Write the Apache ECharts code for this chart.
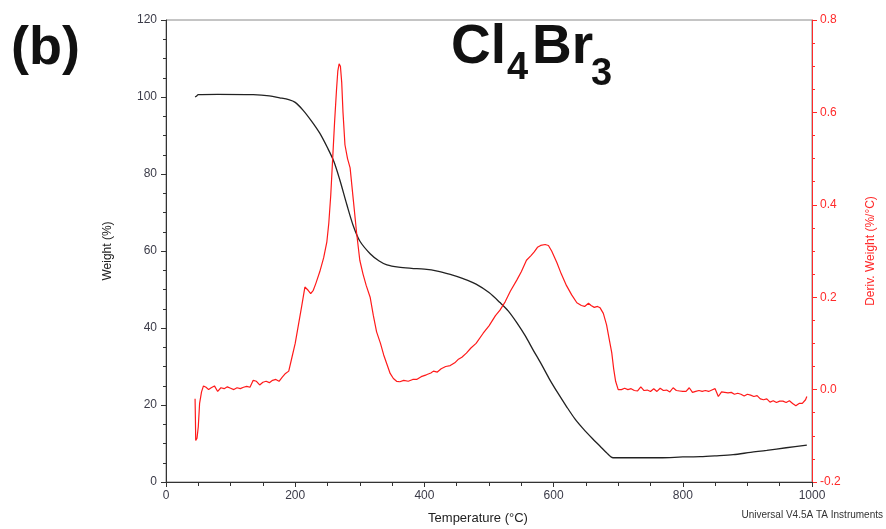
<!DOCTYPE html>
<html>
<head>
<meta charset="utf-8">
<script src="https://cdn.jsdelivr.net/npm/echarts/dist/echarts.min.js"></script>
<style>
  html, body { margin: 0; padding: 0; background: #fff; }
  #tga { width: 886px; height: 529px; }
</style>
</head>
<body>
<div id="tga"></div>
<script>
// TGA curve: temperature (°C) -> weight (%)
var weightT = [45, 47, 50, 80, 135, 160, 176, 190, 200, 212, 225, 238, 250, 260, 269, 280, 290, 300, 316, 330,
  342, 360, 380, 400, 420, 440, 460, 480, 500, 517, 530, 543, 556, 568, 581, 594, 607, 620, 633, 646,
  660, 672, 682, 692, 720, 765, 800, 827, 850, 878, 905, 930, 960, 992];
var weightPct = [100.0, 100.2, 100.6, 100.7, 100.6, 100.3, 99.8, 99.3, 98.6, 96.6, 93.8, 90.6, 86.8, 83.2, 78.5, 72.0, 66.5, 62.6, 59.3, 57.4,
  56.4, 55.8, 55.5, 55.3, 54.8, 53.9, 52.8, 51.4, 49.2, 46.6, 44.4, 41.4, 38.0, 34.4, 30.6, 26.6, 23.0, 19.6, 16.4, 13.8,
  11.3, 9.3, 7.6, 6.3, 6.3, 6.3, 6.5, 6.6, 6.8, 7.1, 7.7, 8.2, 8.9, 9.6];

// DTG curve: temperature (°C) -> deriv. weight (%/°C)
var derivT = [45, 45.5, 46, 48, 50, 52, 55, 58, 62, 66, 70, 75, 80, 85, 90, 95, 100, 105, 110, 115,
  120, 125, 130, 135, 140, 145, 150, 155, 160, 165, 170, 175, 180, 185, 190, 195, 200, 205, 210, 215,
  220, 224, 228, 232, 238, 244, 249, 252, 255, 258, 261, 264, 266, 268, 270, 272, 274, 277, 281, 285,
  290, 295, 300, 305, 310, 316, 321, 326, 332, 337, 342, 347, 352, 357, 362, 368, 375, 382, 388, 395,
  403, 410, 414, 420, 426, 433, 440, 447, 452, 458, 465, 472, 480, 491, 500, 510, 517, 525, 533, 543,
  550, 558, 565, 570, 575, 580, 587, 592, 597, 605, 612, 620, 628, 636, 643, 648, 654, 658, 663, 668,
  672, 677, 682, 686, 690, 693, 696, 700, 705, 710, 715, 720, 725, 730, 735, 740, 745, 750, 755, 760,
  765, 770, 775, 780, 785, 790, 795, 800, 805, 810, 815, 820, 825, 830, 835, 840, 845, 850, 855, 860,
  865, 870, 875, 880, 885, 890, 895, 900, 905, 910, 915, 920, 925, 930, 935, 940, 945, 950, 955, 960,
  965, 970, 975, 980, 985, 990, 992];
var derivVal = [-0.02, -0.06, -0.11, -0.105, -0.08, -0.03, -0.005, 0.008, 0.005, 0.0, 0.004, 0.008, -0.004, 0.004, 0.002, 0.006, 0.003, 0.0, 0.004, 0.002,
  0.005, 0.007, 0.005, 0.02, 0.018, 0.01, 0.016, 0.018, 0.015, 0.02, 0.022, 0.018, 0.027, 0.035, 0.04, 0.07, 0.1, 0.14, 0.18, 0.222,
  0.215, 0.208, 0.215, 0.23, 0.255, 0.285, 0.32, 0.36, 0.42, 0.5, 0.58, 0.65, 0.69, 0.705, 0.7, 0.665, 0.6, 0.53, 0.5, 0.48,
  0.41, 0.34, 0.28, 0.25, 0.225, 0.2, 0.16, 0.125, 0.1, 0.075, 0.055, 0.035, 0.024, 0.018, 0.017, 0.02, 0.018, 0.022, 0.022, 0.028,
  0.032, 0.036, 0.04, 0.038, 0.045, 0.05, 0.052, 0.058, 0.065, 0.07, 0.079, 0.09, 0.1, 0.122, 0.138, 0.16, 0.172, 0.19, 0.213, 0.237,
  0.255, 0.28, 0.29, 0.298, 0.308, 0.312, 0.314, 0.312, 0.3, 0.275, 0.25, 0.225, 0.205, 0.188, 0.182, 0.18, 0.187, 0.182, 0.178, 0.18,
  0.177, 0.165, 0.14, 0.11, 0.08, 0.045, 0.018, 0.0, 0.0, 0.003, 0.0, 0.002, -0.002, -0.003, 0.006, -0.002, -0.001, -0.004, 0.002, -0.004,
  0.003, -0.002, -0.001, -0.005, 0.004, -0.002, -0.003, -0.004, -0.004, 0.004, -0.006, -0.004, -0.002, -0.004, -0.002, -0.004, -0.001, 0.002, -0.015, -0.005,
  -0.006, -0.007, -0.006, -0.01, -0.008, -0.01, -0.014, -0.01, -0.012, -0.015, -0.013, -0.02, -0.022, -0.02, -0.027, -0.024, -0.028, -0.025, -0.025, -0.028,
  -0.024, -0.03, -0.035, -0.03, -0.03, -0.022, -0.015];

var xTicks = { min: 0, max: 1000, step: 200 };
var weightTicks = { min: 0, max: 120, step: 20 };
var derivTicks = { min: -0.2, max: 0.8, step: 0.2 };

function pairs(xs, ys) {
  return xs.map(function (x, i) { return [x, ys[i]]; });
}

var font = 'Arial, "Liberation Sans", sans-serif';
var myChart = echarts.init(document.getElementById('tga'));

var option = {
  animation: false,
  backgroundColor: '#fff',
  textStyle: { fontFamily: font },
  grid: {
    left: 166, right: 74, top: 20, bottom: 47,
    outerBoundsMode: 'none',
    containLabel: false,
    show: true, borderColor: '#8a8a8a', borderWidth: 1
  },
  xAxis: {
    type: 'value',
    min: xTicks.min, max: xTicks.max, interval: xTicks.step,
    name: 'Temperature (°C)',
    nameLocation: 'middle',
    nameGap: 30,
    nameTextStyle: { color: '#222', fontSize: 13, padding: [0, 22, 0, 0] },
    axisLine: { lineStyle: { color: '#333', width: 1 } },
    axisTick: { length: 5, lineStyle: { color: '#333' } },
    minorTick: { show: true, splitNumber: 4, length: 4, lineStyle: { color: '#333' } },
    axisLabel: { color: '#3b3b48', fontSize: 12, margin: 8, formatter: function (v) { return String(v); } },
    splitLine: { show: false }
  },
  yAxis: [
    {
      type: 'value',
      position: 'left',
      min: weightTicks.min, max: weightTicks.max, interval: weightTicks.step,
      name: 'Weight (%)',
      nameLocation: 'middle',
      nameGap: 52,
      nameTextStyle: { color: '#222', fontSize: 12 },
      axisLine: { show: true, lineStyle: { color: '#333', width: 1 } },
      axisTick: { show: true, length: 5, lineStyle: { color: '#333' } },
      minorTick: { show: true, splitNumber: 4, length: 3, lineStyle: { color: '#333' } },
      axisLabel: { color: '#3b3b48', fontSize: 12, margin: 9 },
      splitLine: { show: false }
    },
    {
      type: 'value',
      position: 'right',
      min: derivTicks.min, max: derivTicks.max, interval: derivTicks.step,
      name: 'Deriv. Weight (%/°C)',
      nameLocation: 'middle',
      nameGap: 53,
      nameRotate: 90,
      nameTextStyle: { color: '#ff2a2a', fontSize: 12 },
      axisLine: { show: true, lineStyle: { color: '#ff2a2a', width: 1 } },
      axisTick: { show: true, length: 5, lineStyle: { color: '#ff2a2a' } },
      minorTick: { show: true, splitNumber: 4, length: 3, lineStyle: { color: '#ff2a2a' } },
      axisLabel: {
        color: '#ff2a2a', fontSize: 12, margin: 8,
        formatter: function (v) { return v.toFixed(1); }
      },
      splitLine: { show: false }
    }
  ],
  graphic: [
    { type: 'text', left: 11, top: 22, style: { text: '(b)', font: 'bold 54px ' + font, fill: '#111' } },
    { type: 'text', x: 451, y: 48, style: { text: 'Cl', font: 'bold 55px ' + font, fill: '#111', verticalAlign: 'middle' } },
    { type: 'text', x: 507, y: 69, style: { text: '4', font: 'bold 38px ' + font, fill: '#111', verticalAlign: 'middle' } },
    { type: 'text', x: 532, y: 48, style: { text: 'Br', font: 'bold 55px ' + font, fill: '#111', verticalAlign: 'middle' } },
    { type: 'text', x: 591, y: 75, style: { text: '3', font: 'bold 38px ' + font, fill: '#111', verticalAlign: 'middle' } },
    { type: 'text', x: 883, y: 515, style: { text: 'Universal V4.5A TA Instruments', font: '10px ' + font, fill: '#333', align: 'right', verticalAlign: 'middle' } }
  ],
  series: [
    {
      name: 'Weight',
      type: 'line',
      yAxisIndex: 0,
      showSymbol: false,
      smooth: 0.3,
      lineStyle: { color: '#222', width: 1.3 },
      data: pairs(weightT, weightPct)
    },
    {
      name: 'Deriv. Weight',
      type: 'line',
      yAxisIndex: 1,
      showSymbol: false,
      lineStyle: { color: '#ff1a1a', width: 1.2 },
      data: pairs(derivT, derivVal)
    }
  ]
};

myChart.setOption(option);
</script>
</body>
</html>
